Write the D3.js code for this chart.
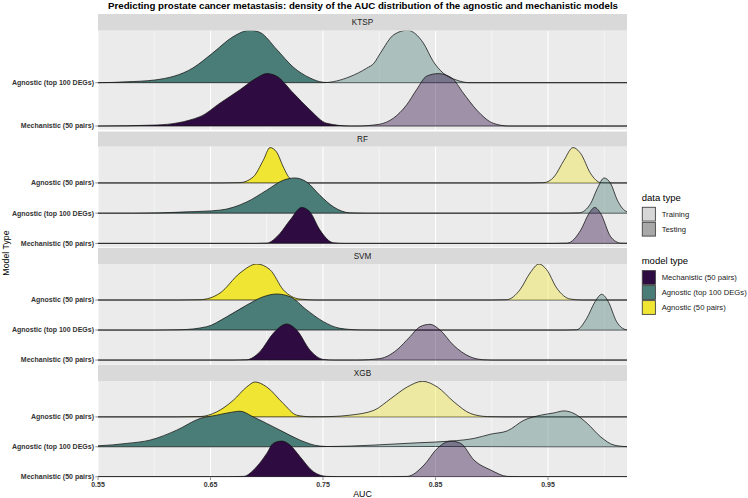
<!DOCTYPE html>
<html><head><meta charset="utf-8">
<script src="https://cdn.jsdelivr.net/npm/d3@7"></script>
<style>body{margin:0;background:#fff} text{font-family:"Liberation Sans",Arial,Helvetica,sans-serif}</style>
</head><body><svg id="c" width="748" height="498"></svg>
<script>
// ---------- data ----------
const titleText = "Predicting prostate cancer metastasis: density of the AUC distribution of the agnostic and mechanistic models";
const panels = ["KTSP", "RF", "SVM", "XGB"];
const modelTypes = ["Mechanistic (50 pairs)", "Agnostic (top 100 DEGs)", "Agnostic (50 pairs)"];
const dataTypes = ["Training", "Testing"];
const xTicks = [0.55, 0.65, 0.75, 0.85, 0.95];
const xMinor = [0.6, 0.7, 0.8, 0.9, 1.0];
const xDomain = [0.55, 1.0202];

// density profiles: [AUC, ridge height in row units]
const ktspTop100Test = [[0.55,0],[0.575,0.02],[0.6007,0.063],[0.6344,0.34],[0.6522,0.69],[0.670,1.06],[0.6851,1.21],[0.694,1.16],[0.7091,0.76],[0.7233,0.365],[0.7384,0.11],[0.75,0.01],[0.76,0]];
const ktspTop100Train = [[0.75,0],[0.774,0.14],[0.7888,0.335],[0.7953,0.45],[0.8007,0.67],[0.8131,1.11],[0.8249,1.21],[0.8392,0.915],[0.848,0.49],[0.8569,0.22],[0.8688,0.06],[0.88,0]];
const ktspMechTest = [[0.55,0],[0.6022,0.023],[0.6407,0.216],[0.6584,0.528],[0.6762,0.837],[0.6911,1.11],[0.70,1.21],[0.7088,1.15],[0.7236,0.76],[0.7384,0.372],[0.7533,0.063],[0.774,0]];
const ktspMechTrain = [[0.78,0],[0.80,0.04],[0.8125,0.18],[0.8244,0.49],[0.8332,0.84],[0.8421,1.15],[0.8525,1.21],[0.8644,1.11],[0.8747,0.76],[0.8866,0.37],[0.9014,0.063],[0.915,0]];

const rfAgn50Test = [[0.66,0],[0.6762,0.01],[0.688,0.2],[0.6969,0.75],[0.7029,1.17],[0.7088,1.02],[0.7147,0.53],[0.7207,0.145],[0.7296,0.01],[0.74,0]];
const rfAgn50Train = [[0.935,0],[0.9464,0.01],[0.9553,0.2],[0.9642,0.75],[0.9722,1.17],[0.9791,0.97],[0.9879,0.31],[0.9968,0.01],[1.005,0]];
const rfTop100Test = [[0.58,0],[0.6051,0.01],[0.6288,0.043],[0.6584,0.1],[0.6822,0.37],[0.70,0.76],[0.7147,1.09],[0.7251,1.165],[0.7355,1.03],[0.7473,0.59],[0.7592,0.21],[0.774,0.01],[0.79,0]];
const rfTop100Train = [[0.965,0],[0.9776,0.01],[0.9879,0.32],[0.9938,0.815],[0.9998,1.165],[1.0057,0.98],[1.0116,0.43],[1.0205,0.043],[1.03,0]];
const rfMechTest = [[0.69,0],[0.70,0.01],[0.7118,0.33],[0.7207,0.77],[0.7311,1.19],[0.7384,1.04],[0.7473,0.44],[0.7592,0.02],[0.77,0]];
const rfMechTrain = [[0.955,0],[0.9672,0.01],[0.9791,0.44],[0.9864,0.99],[0.9915,1.19],[0.9968,0.99],[1.0057,0.22],[1.0146,0.01],[1.025,0]];

const svmAgn50Test = [[0.62,0],[0.6407,0.01],[0.6584,0.23],[0.6762,0.9],[0.6911,1.2],[0.7029,1.01],[0.7147,0.34],[0.7296,0.03],[0.745,0]];
const svmAgn50Train = [[0.90,0],[0.9133,0.01],[0.9251,0.343],[0.934,0.9],[0.942,1.2],[0.9488,1.01],[0.9577,0.4],[0.9696,0.033],[0.98,0]];
const svmTop100Test = [[0.60,0],[0.6229,0.01],[0.6466,0.11],[0.6644,0.44],[0.6822,0.83],[0.6969,1.11],[0.7088,1.2],[0.7207,1.11],[0.7355,0.67],[0.7503,0.28],[0.7651,0.057],[0.7829,0.005],[0.80,0]];
const svmTop100Train = [[0.965,0],[0.9755,0.01],[0.9844,0.39],[0.9918,0.943],[0.9977,1.19],[1.0036,0.943],[1.011,0.277],[1.0199,0.01],[1.03,0]];
const svmMechTest = [[0.67,0],[0.6822,0.01],[0.694,0.28],[0.7058,0.89],[0.7177,1.2],[0.7266,1.0],[0.7384,0.33],[0.7503,0.02],[0.76,0]];
const svmMechTrain = [[0.78,0],[0.8007,0.05],[0.8155,0.333],[0.8273,0.777],[0.8362,1.11],[0.8451,1.19],[0.854,1.0],[0.8658,0.5],[0.8807,0.11],[0.8924,0.01],[0.90,0]];

const xgbAgn50Test = [[0.62,0],[0.6407,0.01],[0.6555,0.167],[0.6703,0.557],[0.6822,1.0],[0.6896,1.167],[0.70,1.0],[0.7147,0.447],[0.7266,0.057],[0.7384,0.005],[0.75,0]];
const xgbAgn50Train = [[0.74,0],[0.7562,0.01],[0.774,0.057],[0.7953,0.22],[0.8102,0.61],[0.8249,1.0],[0.8383,1.19],[0.8516,1.0],[0.8664,0.5],[0.8813,0.11],[0.896,0.01],[0.91,0]];
const xgbTop100Test = [[0.53,0.02],[0.55,0.033],[0.5755,0.113],[0.5962,0.223],[0.62,0.557],[0.6407,0.947],[0.6555,1.057],[0.6703,1.167],[0.6762,1.19],[0.688,1.0],[0.70,0.78],[0.7147,0.5],[0.7296,0.223],[0.7473,0.023],[0.7592,0.005],[0.80,0.005],[0.85,0.01],[0.90,0.005],[0.95,0]];
const xgbTop100Train = [[0.74,0],[0.75,0.005],[0.774,0.023],[0.7953,0.057],[0.8338,0.133],[0.8635,0.19],[0.8842,0.28],[0.8991,0.423],[0.9138,0.533],[0.9287,0.89],[0.9435,1.057],[0.9553,1.133],[0.9642,1.2],[0.9731,1.113],[0.9849,0.78],[0.9968,0.333],[1.0087,0.057],[1.0205,0.005],[1.03,0]];
const xgbMechTest = [[0.665,0],[0.6792,0.01],[0.691,0.333],[0.70,0.78],[0.7058,1.113],[0.7133,1.19],[0.7207,1.057],[0.7296,0.667],[0.7414,0.167],[0.7533,0.01],[0.765,0]];
const xgbMechTrain = [[0.81,0],[0.8249,0.01],[0.8398,0.39],[0.8516,0.947],[0.8635,1.19],[0.8724,1.113],[0.8842,0.557],[0.8991,0.223],[0.9138,0.01],[0.925,0]];

// rows per panel, bottom to top
const panelRows = [
  [modelTypes[0], modelTypes[1]],
  [modelTypes[0], modelTypes[1], modelTypes[2]],
  [modelTypes[0], modelTypes[1], modelTypes[2]],
  [modelTypes[0], modelTypes[1], modelTypes[2]]
];

const ridges = [
  {panel:"KTSP", model:modelTypes[1], type:"Testing",  pts:ktspTop100Test},
  {panel:"KTSP", model:modelTypes[1], type:"Training", pts:ktspTop100Train},
  {panel:"KTSP", model:modelTypes[0], type:"Testing",  pts:ktspMechTest},
  {panel:"KTSP", model:modelTypes[0], type:"Training", pts:ktspMechTrain},
  {panel:"RF", model:modelTypes[2], type:"Testing",  pts:rfAgn50Test},
  {panel:"RF", model:modelTypes[2], type:"Training", pts:rfAgn50Train},
  {panel:"RF", model:modelTypes[1], type:"Testing",  pts:rfTop100Test},
  {panel:"RF", model:modelTypes[1], type:"Training", pts:rfTop100Train},
  {panel:"RF", model:modelTypes[0], type:"Testing",  pts:rfMechTest},
  {panel:"RF", model:modelTypes[0], type:"Training", pts:rfMechTrain},
  {panel:"SVM", model:modelTypes[2], type:"Testing",  pts:svmAgn50Test},
  {panel:"SVM", model:modelTypes[2], type:"Training", pts:svmAgn50Train},
  {panel:"SVM", model:modelTypes[1], type:"Testing",  pts:svmTop100Test},
  {panel:"SVM", model:modelTypes[1], type:"Training", pts:svmTop100Train},
  {panel:"SVM", model:modelTypes[0], type:"Testing",  pts:svmMechTest},
  {panel:"SVM", model:modelTypes[0], type:"Training", pts:svmMechTrain},
  {panel:"XGB", model:modelTypes[2], type:"Testing",  pts:xgbAgn50Test},
  {panel:"XGB", model:modelTypes[2], type:"Training", pts:xgbAgn50Train},
  {panel:"XGB", model:modelTypes[1], type:"Testing",  pts:xgbTop100Test},
  {panel:"XGB", model:modelTypes[1], type:"Training", pts:xgbTop100Train},
  {panel:"XGB", model:modelTypes[0], type:"Testing",  pts:xgbMechTest},
  {panel:"XGB", model:modelTypes[0], type:"Training", pts:xgbMechTrain}
];

// ---------- styling / layout ----------
const modelColor = d3.scaleOrdinal().domain(modelTypes).range(["#2e0b40", "#4a7d77", "#f1e534"]);
const typeOpacity = d3.scaleOrdinal().domain(dataTypes).range([0.4, 1]);
const typeKeyFill = d3.scaleOrdinal().domain(dataTypes).range(["#d7d7d7", "#a8a8a8"]);

const left = 98, right = 627;
const stripTop = [14, 131.5, 248, 365];
const panelTop = [30.7, 146.7, 264, 381];
const panelBottom = [129.7, 247.3, 364.7, 477.3];
const yLow = [0.915, 0.87, 0.845, 0.98];

const svg = d3.select("#c");
const x = d3.scaleLinear().domain(xDomain).range([left, right]);

svg.append("text").attr("x", 363).attr("y", 9).attr("text-anchor", "middle")
  .attr("font-size", 9.7).attr("font-weight", "bold").attr("fill", "#000").text(titleText);

panels.forEach((p, i) => {
  const rows = panelRows[i];
  const y = d3.scaleLinear().domain([yLow[i], rows.length + 1.2]).range([panelBottom[i], panelTop[i]]);
  const rowIndex = m => rows.indexOf(m) + 1;

  // strip
  svg.append("rect").attr("x", left).attr("y", stripTop[i]).attr("width", right - left)
    .attr("height", panelTop[i] - stripTop[i]).attr("fill", "#d9d9d9");
  svg.append("text").attr("x", (left + right) / 2).attr("y", (stripTop[i] + panelTop[i]) / 2 + 3)
    .attr("text-anchor", "middle").attr("font-size", 8.2).attr("fill", "#1a1a1a").text(p);

  // panel
  svg.append("rect").attr("x", left).attr("y", panelTop[i]).attr("width", right - left)
    .attr("height", panelBottom[i] - panelTop[i]).attr("fill", "#ebebeb");
  const g = svg.append("g");
  const cid = "clip" + i;
  svg.append("clipPath").attr("id", cid).append("rect")
    .attr("x", left).attr("y", panelTop[i]).attr("width", right - left).attr("height", panelBottom[i] - panelTop[i]);
  g.attr("clip-path", `url(#${cid})`);

  xMinor.forEach(v => g.append("line").attr("x1", x(v)).attr("x2", x(v))
    .attr("y1", panelTop[i]).attr("y2", panelBottom[i]).attr("stroke", "#fff").attr("stroke-width", 0.55));
  xTicks.forEach(v => g.append("line").attr("x1", x(v)).attr("x2", x(v))
    .attr("y1", panelTop[i]).attr("y2", panelBottom[i]).attr("stroke", "#fff").attr("stroke-width", 1.1));
  rows.forEach((m, k) => g.append("line").attr("x1", left).attr("x2", right)
    .attr("y1", y(k + 1)).attr("y2", y(k + 1)).attr("stroke", "#fff").attr("stroke-width", 1.1));

  // ridges: top rows first, testing then training
  const pr = ridges.filter(r => r.panel === p)
    .sort((a, b) => (rowIndex(b.model) - rowIndex(a.model)) || (dataTypes.indexOf(b.type) - dataTypes.indexOf(a.type)));
  pr.forEach(r => {
    const base = rowIndex(r.model);
    const pts = [[xDomain[0] - 0.03, 0]].concat(r.pts.filter(d => d[0] > xDomain[0] - 0.03), [[xDomain[1] + 0.03, 0]]);
    const area = d3.area().x(d => x(d[0])).y0(y(base)).y1(d => y(base + d[1])).curve(d3.curveMonotoneX);
    const line = d3.line().x(d => x(d[0])).y(d => y(base + d[1])).curve(d3.curveMonotoneX);
    g.append("path").attr("d", area(pts)).attr("fill", modelColor(r.model)).attr("fill-opacity", typeOpacity(r.type));
    g.append("path").attr("d", line(pts)).attr("fill", "none").attr("stroke", "#111").attr("stroke-width", 0.75);
  });

  // y axis
  rows.forEach((m, k) => {
    svg.append("line").attr("x1", left - 2.7).attr("x2", left).attr("y1", y(k + 1)).attr("y2", y(k + 1))
      .attr("stroke", "#333").attr("stroke-width", 0.55);
    svg.append("text").attr("x", left - 4).attr("y", y(k + 1) + 2.4).attr("text-anchor", "end")
      .attr("font-size", 7).attr("font-weight", "bold").attr("fill", "#333").text(m);
  });
});

// x axis
const xb = panelBottom[3];
xTicks.forEach(v => {
  svg.append("line").attr("x1", x(v)).attr("x2", x(v)).attr("y1", xb).attr("y2", xb + 2.7)
    .attr("stroke", "#333").attr("stroke-width", 0.55);
  svg.append("text").attr("x", x(v)).attr("y", xb + 9.3).attr("text-anchor", "middle")
    .attr("font-size", 7).attr("font-weight", "bold").attr("fill", "#333").text(d3.format(".2f")(v));
});
svg.append("text").attr("x", (left + right) / 2).attr("y", 496.5).attr("text-anchor", "middle")
  .attr("font-size", 8.8).attr("fill", "#000").text("AUC");
svg.append("text").attr("transform", "translate(8.5,253) rotate(-90)").attr("text-anchor", "middle")
  .attr("font-size", 8.8).attr("fill", "#000").text("Model Type");

// legends
const lx = 641.7, kw = 14.3, kh = 15;
svg.append("text").attr("x", lx).attr("y", 200.5).attr("font-size", 9.5).attr("fill", "#000").text("data type");
dataTypes.forEach((t, k) => {
  const ky = 206.7 + k * kh;
  svg.append("rect").attr("x", lx).attr("y", ky).attr("width", kw).attr("height", kh)
    .attr("fill", "#f2f2f2");
  svg.append("rect").attr("x", lx + 0.6).attr("y", ky + 0.6).attr("width", kw - 1.2).attr("height", kh - 1.2)
    .attr("fill", typeKeyFill(t)).attr("stroke", "#444").attr("stroke-width", 0.9);
  svg.append("text").attr("x", lx + 20).attr("y", ky + kh / 2 + 2.7).attr("font-size", 7.7).attr("fill", "#1a1a1a").text(t);
});
svg.append("text").attr("x", lx).attr("y", 263.5).attr("font-size", 9.5).attr("fill", "#000").text("model type");
modelTypes.forEach((m, k) => {
  const ky = 270 + k * kh;
  svg.append("rect").attr("x", lx).attr("y", ky).attr("width", kw).attr("height", kh)
    .attr("fill", "#f2f2f2");
  svg.append("rect").attr("x", lx + 0.6).attr("y", ky + 0.6).attr("width", kw - 1.2).attr("height", kh - 1.2)
    .attr("fill", modelColor(m)).attr("stroke", "#444").attr("stroke-width", 0.9);
  svg.append("text").attr("x", lx + 20).attr("y", ky + kh / 2 + 2.7).attr("font-size", 7.7).attr("fill", "#1a1a1a").text(m);
});
</script></body></html>
